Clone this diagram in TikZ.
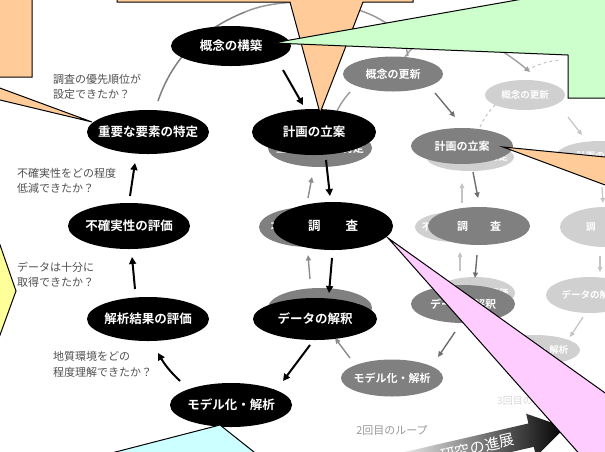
\documentclass[tikz,border=0pt]{standalone}
\usepackage{fontspec}
\setmainfont{Noto Sans CJK JP}[BoldFont={Noto Sans CJK JP Bold}]
\usetikzlibrary{shapes.geometric,arrows.meta,calc}
\definecolor{gtwo}{HTML}{808080}
\definecolor{gthree}{HTML}{D0D0D0}
\definecolor{peach}{HTML}{FFCC99}
\definecolor{mint}{HTML}{CCFFCC}
\definecolor{lemon}{HTML}{FFFF99}
\definecolor{aqua}{HTML}{CCFFFF}
\definecolor{rosa}{HTML}{FFCCFF}
\definecolor{qtext}{HTML}{505050}
\definecolor{arrtwo}{HTML}{6E6E6E}
\definecolor{arrthree}{HTML}{C4C4C4}
\newcommand{\mklab}[1]{\makebox[0pt][c]{#1}}
\begin{document}
\begin{tikzpicture}[x=1pt,y=-1pt,
  ellbase/.style={ellipse, inner sep=0pt, outer sep=0pt, text=white},
  one/.style={ellbase, fill=black, font=\fontsize{12.5}{14}\selectfont\bfseries},
  two/.style={ellbase, fill=gtwo, font=\fontsize{11}{13}\selectfont\bfseries},
  three/.style={ellbase, fill=gthree, font=\fontsize{9.5}{11}\selectfont\bfseries},
  sz/.style 2 args={minimum width=#1, minimum height=#2},
  arrone/.style={line width=2pt, -{Triangle[length=7pt,width=7pt]}},
  arrtw/.style={draw=arrtwo, line width=1.4pt, -{Triangle[length=5.5pt,width=5pt]}},
  arrth/.style={draw=arrthree, line width=1.2pt, -{Triangle[length=5pt,width=4.5pt]}},
  callout/.style={draw=black, line width=1pt, line join=miter},
  q/.style={anchor=north west, align=left, inner sep=0pt, text=qtext, font=\fontsize{11}{15.5}\selectfont}]
\useasboundingbox (0,0) rectangle (605,451);
\clip (0,0) rectangle (605,451);
\fill[white] (0,0) rectangle (605,451);

% ---------- loop 3 ----------
\node[three, sz={80}{30}] (A3) at (525,95) {\mklab{概念の更新}};
\node[three, sz={88}{30}] (B3) at (600,156) {\mklab{計画の立案}};
\node[three, sz={90}{40}] (C3) at (605,227) {\mklab{調　　査}};
\node[three, sz={88}{36}] (D3) at (590,295) {\mklab{データの解釈}};
\node[three, sz={90}{30}] (E3) at (535,350) {\mklab{モデル化・解析}};
\node[three, sz={80}{32}] (F3) at (475,293) {\mklab{解析結果の評価}};
\node[three, sz={80}{30}] (G3) at (455,227) {\mklab{不確実性の評価}};
\node[three, sz={88}{28}] (H3) at (470,157) {\mklab{重要な要素の特定}};
\coordinate (N4) at (560,60);
\draw[arrth] ($(A3)+(43,22)$) -- ($(B3)+(-18,-21)$);
\draw[arrth] ($(B3)+(2,31)$) -- ($(C3)+(-2,-24)$);
\draw[arrth] ($(C3)+(-5,29)$) -- ($(D3)+(10,-23)$);
\draw[arrth] ($(D3)+(-7,22)$) -- ($(E3)+(35,-13)$);
\draw[arrth] ($(F3)+(-15,-22)$) -- ($(G3)+(5,25)$);
\draw[arrth] ($(G3)+(7,-24)$) -- ($(H3)+(-8,26)$);
\draw[arrthree, line width=1pt, dashed] ($(H3)+(10,-30)$) to[bend left=10] ($(A3)+(-28,8)$);
\draw[arrthree, line width=1pt, dashed] ($(A3)+(2,-25)$) to[bend left=10] (N4);

% ---------- loop 2 ----------
\node[two, sz={100}{35}] (A2) at (393,74) {\mklab{概念の更新}};
\node[two, sz={102}{36}] (B2) at (462,146) {\mklab{計画の立案}};
\node[two, sz={102}{38}] (C2) at (479,226) {\mklab{調　　査}};
\node[two, sz={104}{38}] (D2) at (463,304) {\mklab{データの解釈}};
\node[two, sz={102}{37}] (E2) at (392,378) {\mklab{モデル化・解析}};
\node[two, sz={104}{40}] (F2) at (320,308) {\mklab{解析結果の評価}};
\node[two, sz={100}{40}] (G2) at (309,227) {\mklab{不確実性の評価}};
\node[two, sz={104}{38}] (H2) at (320,148) {\mklab{重要な要素の特定}};
\draw[gtwo!80, line width=1.4pt] ($(H2)+(15,-33)$) to[bend left=8] ($(A2)+(-43,18)$);
\draw[arrtw, draw=gray!75] ($(A2)+(12,-17)$) .. controls (430,20) and (480,30) .. ($(A3)+(5,-23)$);
\draw[arrtw] ($(A2)+(42,19)$) -- ($(B2)+(-7,-29)$);
\draw[arrtw] ($(B2)+(11,26)$) -- ($(C2)+(-1,-28)$);
\draw[arrtw] ($(C2)+(-2,29)$) -- ($(D2)+(12,-26)$);
\draw[arrtw] ($(D2)+(-8,28)$) -- ($(E2)+(46,-21)$);
\draw[arrtw, draw=gray!90] ($(E2)+(-42,-20)$) -- ($(F2)+(15,30)$);
\draw[arrtw, draw=gray!90] ($(F2)+(-10,-29)$) -- ($(G2)+(-1,28)$);
\draw[arrtw, draw=gray!90] ($(G2)+(-1,-29)$) -- ($(H2)+(-8,29)$);

% ---------- loop 1 ----------
\coordinate (H1p) at (158,101);
\coordinate (A1p) at (245,12);
\draw[gray, line width=1.5pt] (H1p) .. controls (172,60) and (200,30) .. (A1p);
\draw[gray!80, line width=1.5pt] (A1p) .. controls (290,-8) and (400,0) .. ($(A2)+(15,-18)$);
\node[one, sz={120}{40}] (A1) at (231,46) {\mklab{概念の構築}};
\node[one, sz={124}{46}] (B1) at (314,132) {\mklab{計画の立案}};
\node[one, sz={120}{48}] (C1) at (333,226) {\mklab{調　　査}};
\node[one, sz={124}{42}] (D1) at (315,319) {\mklab{データの解釈}};
\node[one, sz={122}{44}] (E1) at (231,405) {\mklab{モデル化・解析}};
\node[one, sz={122}{44}] (F1) at (148,319) {\mklab{解析結果の評価}};
\node[one, sz={122}{46}] (G1) at (129,226) {\mklab{不確実性の評価}};
\node[one, sz={122}{44}] (H1) at (148,132) {\mklab{重要な要素の特定}};
\draw[arrone] ($(A1)+(52,24)$) -- ($(B1)+(-11,-27)$);
\draw[arrone] ($(B1)+(12,28)$) -- ($(C1)+(-3,-30)$);
\draw[arrone] ($(C1)+(-1,32)$) -- ($(D1)+(14,-26)$);
\draw[arrone] ($(D1)+(-5,26)$) -- ($(E1)+(52,-24)$);
\draw[arrone] ($(E1)+(-51,-24)$) to[bend left=8] ($(F1)+(10,34)$);
\draw[arrone] ($(F1)+(-13,-30)$) -- ($(G1)+(3,31)$);
\draw[arrone] ($(G1)+(1,-30)$) -- ($(H1)+(-13,31)$);

% ---------- questions and loop labels ----------
\node[q] (q1) at (53,73.5) {調査の優先順位が\\設定できたか？};
\node[q] (q2) at (17,168) {不確実性をどの程度\\低減できたか？};
\node[q] (q3) at (17,261.5) {データは十分に\\取得できたか？};
\node[q] (q4) at (53,351.5) {地質環境をどの\\程度理解できたか？};
\node[text=gray!80, font=\fontsize{11}{13}\selectfont, inner sep=0pt] (loop2) at (392,430) {2回目のループ};
\node[text=gray!30, font=\fontsize{10}{12}\selectfont, inner sep=0pt, anchor=west] (loop3) at (497,401) {3回目のループ};

% ---------- progress arrow ----------
\begin{scope}[shift={(497,443)}, rotate=13]
\shade[left color=white, right color=black] (-110,-12) -- (35,-12) -- (35,-22) -- (70,0) -- (35,22) -- (35,12) -- (-110,12) -- cycle;
\node[rotate=13, text=white, font=\fontsize{15}{17}\selectfont, inner sep=0pt] (prog) at (-20,0) {研究の進展};
\end{scope}

% ---------- callouts ----------
\filldraw[callout, fill=peach] (-120,-10) -- (32,-10) -- (32,77) -- (-30,77) -- (92,122) -- (-96,77) -- (-120,77) -- cycle;
\filldraw[callout, fill=peach] (117,-10) -- (117,2) -- (290,2) -- (320,113) -- (363,2) -- (413,2) -- (413,-10) -- cycle;
\filldraw[callout, fill=mint] (273,43) -- (568,55) -- (568,98) -- (700,98) -- (700,-20) -- (568,-20) -- (568,-9) -- cycle;
\filldraw[callout, fill=peach] (503,147) -- (650,161.4) -- (650,201.7) -- cycle;
\filldraw[callout, fill=lemon] (-10,216) -- (16,291) -- (-10,362.5) -- cycle;
\filldraw[callout, fill=aqua] (100,456) -- (220,425) -- (259,456) -- cycle;
\filldraw[callout, fill=rosa] (388,238) -- (720,475) -- (720,520) -- (638,520) -- cycle;
\end{tikzpicture}
\end{document}
